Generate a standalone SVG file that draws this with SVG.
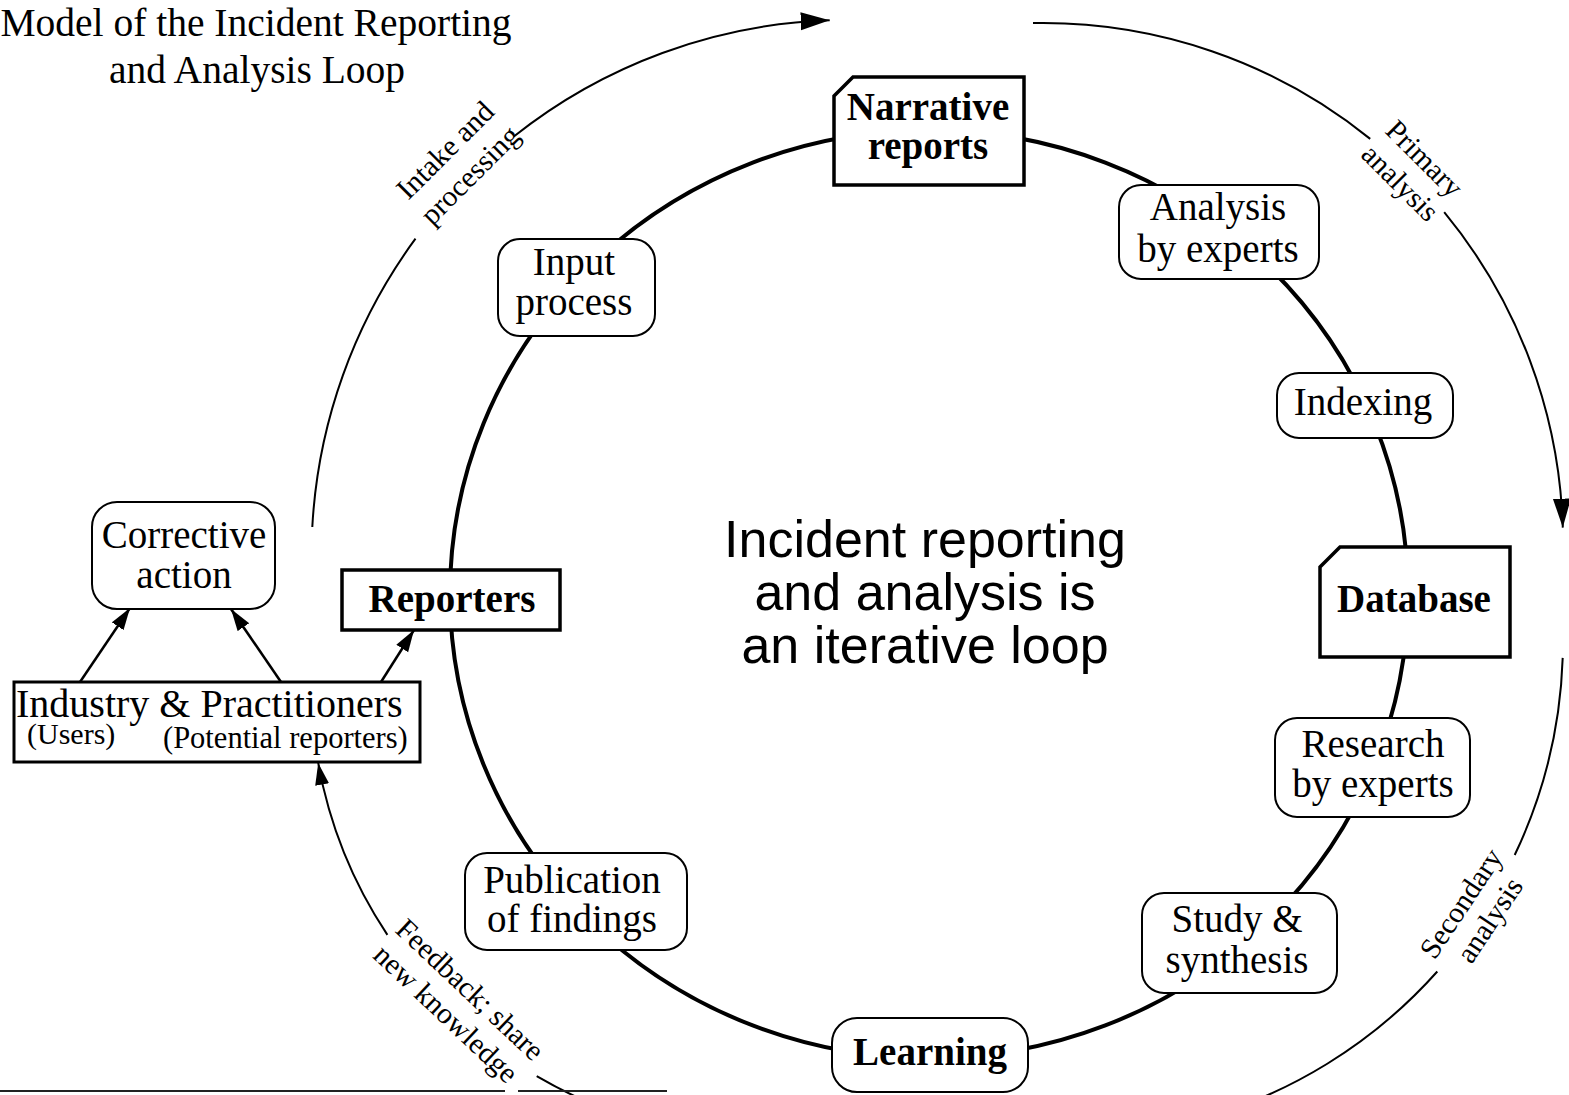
<svg xmlns="http://www.w3.org/2000/svg" width="1569" height="1095" viewBox="0 0 1569 1095">
<style>
.t{font-family:"Liberation Serif","Times New Roman",serif;font-size:39px;text-anchor:middle;fill:#000}
.b{font-weight:bold}
.a{font-family:"Liberation Serif","Times New Roman",serif;font-size:29.5px;text-anchor:middle;fill:#000}
.c{font-family:"Liberation Sans",Arial,sans-serif;font-size:52px;text-anchor:middle;fill:#000}
.rb{fill:#fff;stroke:#000;stroke-width:2}
.sb{fill:#fff;stroke:#000;stroke-width:3.5}
.arc{fill:none;stroke:#000;stroke-width:2}
.ln{fill:none;stroke:#000;stroke-width:2.5}
</style>
<defs>
<marker id="big" markerUnits="userSpaceOnUse" markerWidth="30" markerHeight="20" refX="29" refY="9" orient="auto">
<path d="M0,0 L29,9 L0,18 z" fill="#000"/>
</marker>
<marker id="small" markerUnits="userSpaceOnUse" markerWidth="24" markerHeight="16" refX="22" refY="7" orient="auto">
<path d="M0,0 L22,7 L0,14 z" fill="#000"/>
</marker>
</defs>
<rect width="1569" height="1095" fill="#fff"/>
<g id="title">
<text class="t" x="256" y="36" style="font-size:39.5px">Model of the Incident Reporting</text>
<text class="t" x="257" y="83" style="font-size:39.5px">and Analysis Loop</text>
</g>
<g id="connectors">
<ellipse cx="929" cy="594" rx="479" ry="464" fill="none" stroke="#000" stroke-width="4"/>
<path class="arc" d="M312.3,527 A536,536 0 0 1 415.5,238.7"/>
<path class="arc" d="M513.8,136.5 A536,536 0 0 1 829.7,20.3" marker-end="url(#big)"/>
<path class="arc" d="M1033,23.1 A520,520 0 0 1 1370.2,138.9"/>
<path class="arc" d="M1444.2,212.2 A520,520 0 0 1 1562.8,527.6" marker-end="url(#big)"/>
<path class="arc" d="M1562.7,657.9 A496,496 0 0 1 1514.7,855"/>
<path class="arc" d="M1437.3,971.5 A496,496 0 0 1 1195.4,1120.6"/>
<path class="arc" d="M626.8,1116.6 A457,457 0 0 1 536.7,1076.2"/>
<path class="arc" d="M387.4,934.9 A457,457 0 0 1 318.2,762.9" marker-end="url(#small)"/>
<path fill="none" stroke="#222" stroke-width="2" d="M0,1091 H505 M518,1091 H667"/>
<path class="ln" d="M80,682 L130,608" marker-end="url(#small)"/>
<path class="ln" d="M281,682 L231,609" marker-end="url(#small)"/>
<path class="ln" d="M381,682 L414,630" marker-end="url(#small)"/>
</g>
<g id="arc-labels">
<g transform="translate(462,184) rotate(-45)">
<text class="a" x="12" y="-26">Intake and</text>
<text class="a" x="12" y="9">processing</text>
</g>
<g transform="translate(1409,174) rotate(45)">
<text class="a" x="0" y="-12">Primary</text>
<text class="a" x="0" y="22">analysis</text>
</g>
<g transform="translate(1480,916) rotate(-56.4)">
<text class="a" x="0" y="-13">Secondary</text>
<text class="a" x="2" y="20">analysis</text>
</g>
<g transform="translate(454,1014) rotate(43.4)">
<text class="a" x="-5" y="-19">Feedback; share</text>
<text class="a" x="-6" y="15">new knowledge</text>
</g>
</g>
<g id="center-text">
<text class="c" x="925" y="557">Incident reporting</text>
<text class="c" x="925" y="610">and analysis is</text>
<text class="c" x="925" y="663">an iterative loop</text>
</g>
<g id="narrative-reports">
<polygon class="sb" points="853,77 1024,77 1024,185 834,185 834,96"/>
<text class="t b" x="928" y="120">Narrative</text>
<text class="t b" x="928" y="159">reports</text>
</g>
<g id="input-process">
<rect class="rb" x="498" y="239" width="157" height="97" rx="22"/>
<text class="t" x="574" y="275">Input</text>
<text class="t" x="574" y="315">process</text>
</g>
<g id="analysis-by-experts">
<rect class="rb" x="1119" y="185" width="200" height="94" rx="22"/>
<text class="t" x="1218" y="220">Analysis</text>
<text class="t" x="1218" y="262">by experts</text>
</g>
<g id="indexing">
<rect class="rb" x="1277" y="373" width="176" height="65" rx="22"/>
<text class="t" x="1363" y="415">Indexing</text>
</g>
<g id="database">
<polygon class="sb" points="1340,547 1510,547 1510,657 1320,657 1320,567"/>
<text class="t b" x="1414" y="612">Database</text>
</g>
<g id="research-by-experts">
<rect class="rb" x="1275" y="718" width="195" height="99" rx="22"/>
<text class="t" x="1373" y="757">Research</text>
<text class="t" x="1373" y="797">by experts</text>
</g>
<g id="study-synthesis">
<rect class="rb" x="1142" y="893" width="195" height="100" rx="22"/>
<text class="t" x="1237" y="932">Study &amp;</text>
<text class="t" x="1237" y="973">synthesis</text>
</g>
<g id="learning">
<rect class="rb" x="832" y="1018" width="196" height="74" rx="25"/>
<text class="t b" x="930" y="1065">Learning</text>
</g>
<g id="publication-of-findings">
<rect class="rb" x="465" y="853" width="222" height="97" rx="22"/>
<text class="t" x="572" y="893">Publication</text>
<text class="t" x="572" y="932">of findings</text>
</g>
<g id="reporters">
<rect class="sb" x="342" y="570" width="218" height="60"/>
<text class="t b" x="452" y="612">Reporters</text>
</g>
<g id="corrective-action">
<rect class="rb" x="92" y="502" width="183" height="107" rx="25"/>
<text class="t" x="184" y="548">Corrective</text>
<text class="t" x="184" y="588">action</text>
</g>
<g id="industry-practitioners">
<rect class="sb" x="14" y="682" width="406" height="80" style="stroke-width:3"/>
<text class="t" x="16" y="717" style="text-anchor:start;font-size:40px">Industry &amp; Practitioners</text>
<text class="t" x="27" y="744" style="text-anchor:start;font-size:30px">(Users)</text>
<text class="t" x="163" y="748" style="text-anchor:start;font-size:30.5px">(Potential reporters)</text>
</g>
</svg>
